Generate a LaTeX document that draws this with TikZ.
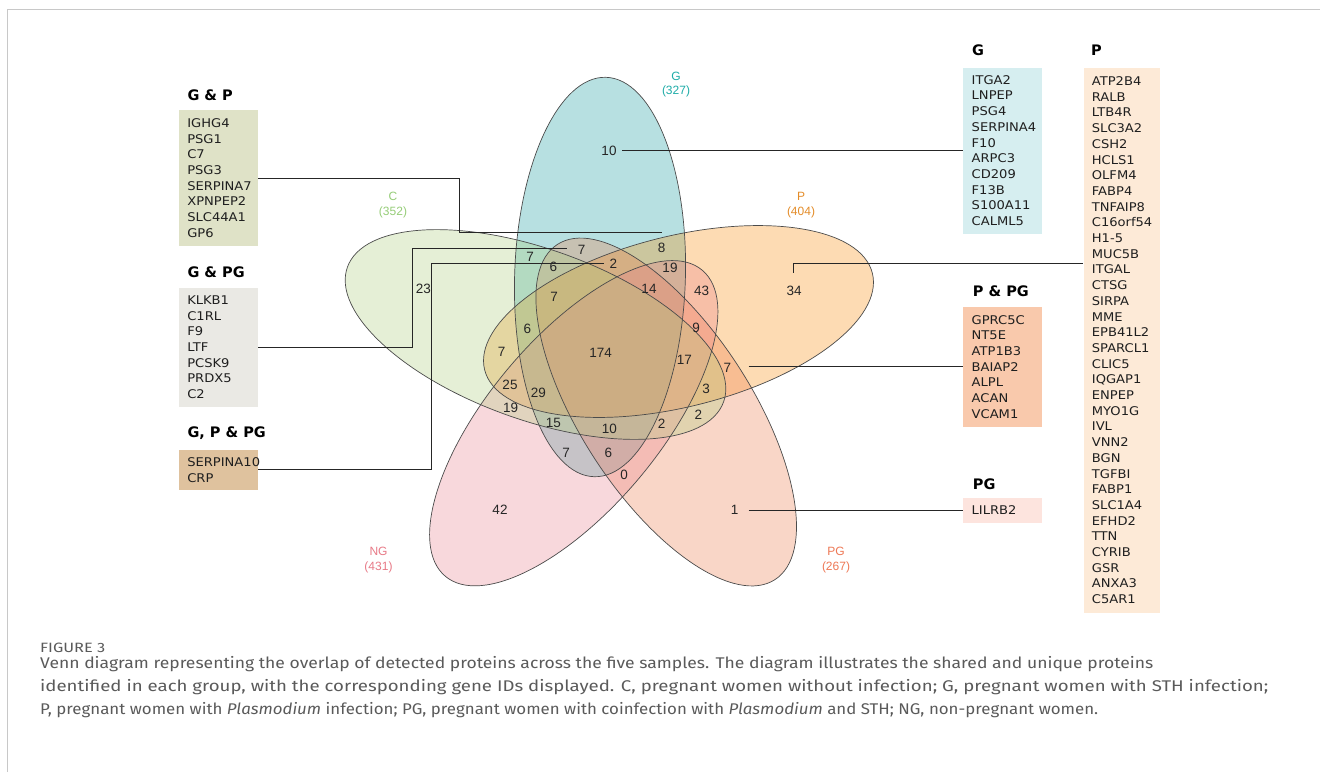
\documentclass[tikz,border=0pt]{standalone}
\usepackage{fontspec}
\usepackage{graphicx}
\setmainfont{Liberation Sans}
\newfontfamily\numfont{Liberation Sans}
\newfontfamily\boxfont[FakeStretch=1.09]{DejaVu Sans}
\newfontfamily\headfont{DejaVu Sans}
\newfontfamily\capfont{Fira Sans}
\definecolor{colG}{RGB}{18,155,158}
\definecolor{colC}{RGB}{172,205,122}
\definecolor{colP}{RGB}{250,138,5}
\definecolor{colNG}{RGB}{235,128,142}
\definecolor{colPG}{RGB}{238,122,72}
\definecolor{labG}{RGB}{30,172,168}
\definecolor{labC}{RGB}{150,205,120}
\definecolor{labP}{RGB}{228,140,40}
\definecolor{labNG}{RGB}{232,122,135}
\definecolor{labPG}{RGB}{238,120,85}
\definecolor{vline}{RGB}{75,75,75}
\definecolor{bGP}{RGB}{223,226,199}
\definecolor{bGPG}{RGB}{234,233,228}
\definecolor{bGPPG}{RGB}{223,194,158}
\definecolor{bG}{RGB}{214,238,240}
\definecolor{bP}{RGB}{253,234,215}
\definecolor{bPPG}{RGB}{249,201,172}
\definecolor{bPG}{RGB}{253,228,222}
\definecolor{framecol}{RGB}{200,200,200}
\definecolor{captext}{RGB}{90,90,90}
\begin{document}
\begin{tikzpicture}[x=1pt,y=-1pt,
  num/.style={inner sep=0pt, text=black!85, font=\numfont\fontsize{13.5}{15}\selectfont},
  setlab/.style={inner sep=0pt, align=center, font=\numfont\fontsize{12}{14.5}\selectfont},
  listbox/.style={anchor=north west, inner xsep=8.8pt, inner ysep=0pt, align=left, text=black!88, font=\boxfont\fontsize{12}{15.7}\selectfont},
  head/.style={anchor=west, inner sep=0pt, font=\headfont\bfseries\fontsize{14.5}{17}\selectfont},
  conn/.style={draw=black!85, line width=0.9pt},
  vennfill/.style={fill opacity=0.3},
  venndraw/.style={draw=vline, line width=0.7pt},
  capline/.style={anchor=base west, inner sep=0pt, text=captext, font=\capfont\fontsize{15.5}{20}\selectfont},
]
\useasboundingbox (0,0) rectangle (1320,772);
\fill[white] (0,0) rectangle (1320,772);
% frame
\draw[framecol, line width=1.2pt] (7.5,772) -- (7.5,9.5) -- (1320,9.5);

% ---------- Venn ellipses ----------
\fill[vennfill, colG, shift={(600,277)}, rotate=88.3] (0,0) ellipse (199.8 and 85.4);
\fill[vennfill, colP, shift={(678.5,321.5)}, rotate=14] (0,0) ellipse (199.8 and 85.4);
\fill[vennfill, colPG, shift={(666.2,412)}, rotate=-57] (0,0) ellipse (199.8 and 85.4);
\fill[vennfill, colNG, shift={(573.75,423.2)}, rotate=-130] (0,0) ellipse (199.8 and 85.4);
\fill[vennfill, colC, shift={(535.5,334.5)}, rotate=160.3] (0,0) ellipse (199.8 and 85.4);
\draw[venndraw, shift={(535.5,334.5)}, rotate=160.3] (0,0) ellipse (199.8 and 85.4);
\draw[venndraw, shift={(600,277)}, rotate=88.3] (0,0) ellipse (199.8 and 85.4);
\draw[venndraw, shift={(678.5,321.5)}, rotate=14] (0,0) ellipse (199.8 and 85.4);
\draw[venndraw, shift={(666.2,412)}, rotate=-57] (0,0) ellipse (199.8 and 85.4);
\draw[venndraw, shift={(573.75,423.2)}, rotate=-130] (0,0) ellipse (199.8 and 85.4);

% ---------- set labels ----------
\node[setlab, text=labG] (labG) at (676,84.5) {G\\(327)};
\node[setlab, text=labC] (labC) at (393,205) {C\\(352)};
\node[setlab, text=labP] (labP) at (801,205) {P\\(404)};
\node[setlab, text=labNG] (labNG) at (378.5,560) {NG\\(431)};
\node[setlab, text=labPG] (labPG) at (836,560) {PG\\(267)};

% ---------- region counts ----------
\node[num] (nG) at (609,151) {10};
\node[num] (nC) at (423.3,289.3) {23};
\node[num] (nP) at (794,290.7) {34};
\node[num] (nNG) at (500,510) {42};
\node[num] (nPG) at (734.6,510) {1};
\node[num] (r1) at (581.7,250) {7};
\node[num] (r2) at (661.7,248.3) {8};
\node[num] (r3) at (530,256.7) {7};
\node[num] (r4) at (553.3,266.7) {6};
\node[num] (r5) at (613.3,264) {2};
\node[num] (r6) at (670,268.3) {19};
\node[num] (r7) at (649,289.3) {14};
\node[num] (r8) at (701.7,290.7) {43};
\node[num] (r9) at (554,296.7) {7};
\node[num] (r10) at (527.3,329.3) {6};
\node[num] (r11) at (696,328.3) {9};
\node[num] (r12) at (501.7,351.7) {7};
\node[num] (r13) at (600.7,353.3) {174};
\node[num] (r14) at (684.3,360) {17};
\node[num] (r15) at (727.3,368.3) {7};
\node[num] (r16) at (510,385) {25};
\node[num] (r17) at (538.3,392.7) {29};
\node[num] (r18) at (706,389.3) {3};
\node[num] (r19) at (510.7,408.3) {19};
\node[num] (r20) at (553.3,422.7) {15};
\node[num] (r21) at (609.3,428.7) {10};
\node[num] (r22) at (661.7,423.3) {2};
\node[num] (r23) at (698.3,415) {2};
\node[num] (r24) at (566,453.3) {7};
\node[num] (r25) at (608.3,452.7) {6};
\node[num] (r26) at (624,475) {0};

% ---------- left boxes ----------
\node[head] (hGP) at (187.3,95) {G \& P};
\node[listbox, fill=bGP, text width=61.8pt, minimum width=79.4pt, minimum height=135.7pt] (gpbox) at (178.3,110)
 {IGHG4\\PSG1\\C7\\PSG3\\SERPINA7\\XPNPEP2\\SLC44A1\\GP6};
\node[head] (hGPG) at (187.3,272.7) {G \& PG};
\node[listbox, fill=bGPG, text width=61.8pt, minimum width=79.4pt, minimum height=119.4pt] (gpgbox) at (178.3,287.3)
 {KLKB1\\C1RL\\F9\\LTF\\PCSK9\\PRDX5\\C2};
\node[head] (hGPPG) at (187.3,433.3) {G, P \& PG};
\node[listbox, fill=bGPPG, text width=61.8pt, minimum width=79.4pt, minimum height=40.7pt] (gppgbox) at (178.3,449.3)
 {SERPINA10\\CRP};

% ---------- right boxes ----------
\node[head] (hG) at (972,50.7) {G};
\node[listbox, fill=bG, text width=61.4pt, minimum width=79pt, minimum height=166pt] (gbox) at (962.7,67.3)
 {ITGA2\\LNPEP\\PSG4\\SERPINA4\\F10\\ARPC3\\CD209\\F13B\\S100A11\\CALML5};
\node[head] (hP) at (1091,50.7) {P};
\node[listbox, fill=bP, inner xsep=8.4pt, text width=59.9pt, minimum width=76.7pt, minimum height=545.4pt] (pbox) at (1083.3,67.3)
 {ATP2B4\\RALB\\LTB4R\\SLC3A2\\CSH2\\HCLS1\\OLFM4\\FABP4\\TNFAIP8\\C16orf54\\H1-5\\MUC5B\\ITGAL\\CTSG\\SIRPA\\MME\\EPB41L2\\SPARCL1\\CLIC5\\IQGAP1\\ENPEP\\MYO1G\\IVL\\VNN2\\BGN\\TGFBI\\FABP1\\SLC1A4\\EFHD2\\TTN\\CYRIB\\GSR\\ANXA3\\C5AR1};
\node[head] (hPPG) at (972.7,291.7) {P \& PG};
\node[listbox, fill=bPPG, text width=61.4pt, minimum width=79pt, minimum height=120pt] (ppgbox) at (962.7,306.7)
 {GPRC5C\\NT5E\\ATP1B3\\BAIAP2\\ALPL\\ACAN\\VCAM1};
\node[head] (hPG) at (972.7,484) {PG};
\node[listbox, fill=bPG, text width=61.4pt, minimum width=79pt, minimum height=25pt] (pgbox) at (962.7,497.7)
 {LILRB2};

% ---------- connectors ----------
\coordinate (gpbend) at (459.5,232.3);
\coordinate (gpend) at (662,232.3);
\draw[conn] (gpbox.east) -| (gpbend) -- (gpend);
\coordinate (gpgbend) at (412.3,248.5);
\coordinate (gpgend) at (566.7,248.5);
\draw[conn] (gpgbox.east) -| (gpgbend) -- (gpgend);
\coordinate (gppgbend) at (431,263);
\coordinate (gppgend) at (604,263);
\draw[conn] (gppgbox.east) -| (gppgbend) -- (gppgend);
\coordinate (gstart) at (622,150.3);
\draw[conn] (gstart) -- (gstart -| gbox.west);
\coordinate (pstart) at (793.5,272.5);
\coordinate (pbend) at (793.5,263);
\draw[conn] (pstart) -- (pbend) -- (pbend -| pbox.west);
\coordinate (ppgstart) at (748.5,366.7);
\draw[conn] (ppgstart) -- (ppgstart -| ppgbox.west);
\coordinate (pgstart) at (748.5,510.3);
\draw[conn] (pgstart) -- (pgstart -| pgbox.west);

% ---------- caption ----------
\node[anchor=base west, inner sep=0pt, text=captext, font=\capfont\fontsize{13.5}{15}\selectfont] (figlab) at (40,652)
 {\resizebox{65pt}{\height}{FIGURE 3}};
\node[capline] (cap1) at (40,668.5)
 {\resizebox{1113pt}{\height}{Venn diagram representing the overlap of detected proteins across the five samples. The diagram illustrates the shared and unique proteins}};
\node[capline] (cap2) at (40,691.5)
 {\resizebox{1228pt}{\height}{identified in each group, with the corresponding gene IDs displayed. C, pregnant women without infection; G, pregnant women with STH infection;}};
\node[capline] (cap3) at (40,714.5)
 {\resizebox{1058pt}{\height}{P, pregnant women with \textit{Plasmodium} infection; PG, pregnant women with coinfection with \textit{Plasmodium} and STH; NG, non-pregnant women.}};
\end{tikzpicture}
\end{document}
